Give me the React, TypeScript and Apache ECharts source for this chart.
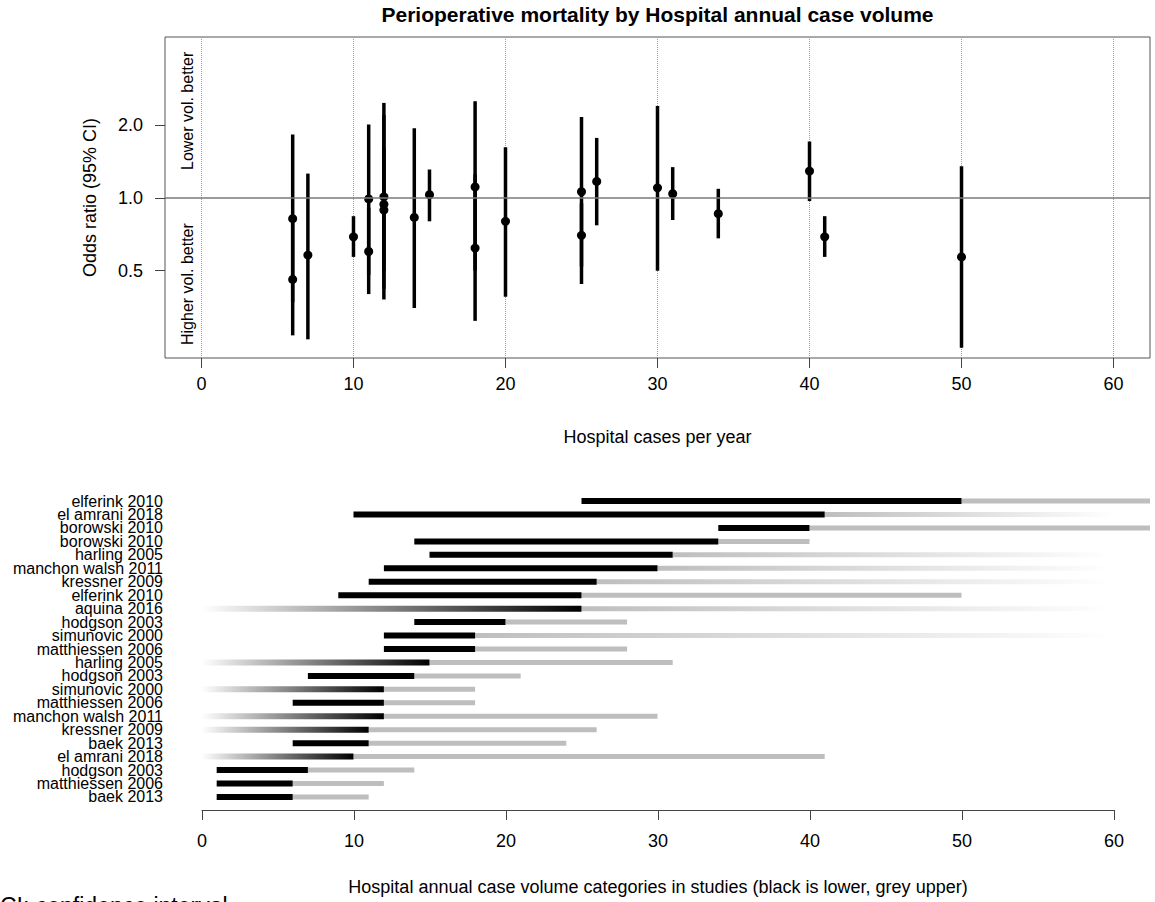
import React, { useEffect, useRef } from 'react';
import * as echarts from 'echarts';

const FONT = "'Liberation Sans', Arial, Helvetica, sans-serif";

// ---- Study rows (top to bottom in the lower panel) ----
const studies = [
  'elferink 2010', 'el amrani 2018', 'borowski 2010', 'borowski 2010', 'harling 2005',
  'manchon walsh 2011', 'kressner 2009', 'elferink 2010', 'aquina 2016', 'hodgson 2003',
  'simunovic 2000', 'matthiessen 2006', 'harling 2005', 'hodgson 2003', 'simunovic 2000',
  'matthiessen 2006', 'manchon walsh 2011', 'kressner 2009', 'baek 2013', 'el amrani 2018',
  'hodgson 2003', 'matthiessen 2006', 'baek 2013',
];
// lower category start (null = "or fewer", drawn fading in from 0)
const lowerFrom: (number | null)[] = [25, 10, 34, 14, 15, 12, 11, 9, null, 14, 12, 12, null, 7, null, 6, null, null, 6, null, 1, 1, 1];
// cut point between lower (black) and upper (grey) category
const cutPoint = [50, 41, 40, 34, 31, 30, 26, 25, 25, 20, 18, 18, 15, 14, 12, 12, 12, 11, 11, 10, 7, 6, 6];
// upper category end (null = "or more", drawn fading out)
const upperTo: (number | null)[] = [100, null, 100, 40, null, null, null, 50, null, 28, null, 28, 31, 21, 18, 18, 30, 26, 24, 41, 14, 12, 11];

// ---- Odds ratios (upper panel), same order ----
const orEst = [0.57, 0.69, 1.29, 0.86, 1.04, 1.10, 1.17, 1.06, 0.70, 0.80, 0.62, 1.11, 1.03, 0.83, 0.89, 0.94, 1.01, 0.60, 0.99, 0.69, 0.58, 0.46, 0.82];
const orLow = [0.24, 0.57, 0.97, 0.68, 0.81, 0.50, 0.77, 0.44, 0.52, 0.39, 0.50, 0.31, 0.80, 0.35, 0.50, 0.38, 0.42, 0.40, 0.48, 0.57, 0.26, 0.27, 0.37];
const orHigh = [1.35, 0.84, 1.71, 1.09, 1.34, 2.40, 1.77, 2.16, 0.95, 1.62, 1.25, 2.51, 1.31, 1.94, 1.60, 2.20, 2.47, 0.91, 2.01, 0.84, 1.26, 0.79, 1.83];

const xTicks = [0, 10, 20, 30, 40, 50, 60];
const orTicks = [0.5, 1, 2];
const FADE_END = 60;

export default function App() {
  const ref = useRef<HTMLDivElement>(null);
  useEffect(() => {
    document.body.style.margin = '0';
    const chart = echarts.init(ref.current!, null, { renderer: 'svg' });
    const log2 = (v: number) => Math.log2(v);
    const topCI = studies.map((_, i) => [cutPoint[i], log2(orLow[i]), log2(orHigh[i])]);
    const topPts = studies.map((_, i) => [cutPoint[i], log2(orEst[i])]);
    const rows = studies.map((_, i) => [cutPoint[i], i]);
    const tickLine = { color: '#444', width: 1 };

    const option: any = {
      animation: false,
      textStyle: { fontFamily: FONT, color: '#000' },
      grid: [
        { left: 165, top: 37, width: 985, height: 321, show: true, borderColor: '#555', borderWidth: 1, backgroundColor: 'transparent' },
        { left: 165, top: 494.3, width: 985, height: 309.4 },
        { left: 202, top: 809, width: 912, height: 1 },
      ],
      xAxis: [
        {
          gridIndex: 0, type: 'value', min: -2.4, max: 62.4, position: 'bottom',
          axisLine: { show: false, onZero: false },
          axisTick: { show: true, customValues: xTicks, length: 10, lineStyle: tickLine },
          axisLabel: { customValues: xTicks, fontSize: 18, color: '#000', fontFamily: FONT, margin: 17 },
          splitLine: { show: true, lineStyle: { type: 'dotted', color: '#9a9a9a', width: 1 } },
          name: 'Hospital cases per year', nameLocation: 'middle', nameGap: 70,
          nameTextStyle: { fontSize: 18, color: '#000', fontFamily: FONT },
        },
        { gridIndex: 1, type: 'value', min: -2.4, max: 62.4, show: false, axisLine: { onZero: false } },
        {
          gridIndex: 2, type: 'value', min: 0, max: 60, interval: 10,
          axisLine: { show: true, onZero: false, lineStyle: tickLine },
          axisTick: { show: true, length: 10, lineStyle: tickLine },
          axisLabel: { fontSize: 18, color: '#000', fontFamily: FONT, margin: 22 },
          splitLine: { show: false },
          name: 'Hospital annual case volume categories in studies (black is lower, grey upper)',
          nameLocation: 'middle', nameGap: 68,
          nameTextStyle: { fontSize: 18, color: '#000', fontFamily: FONT },
        },
      ],
      yAxis: [
        {
          gridIndex: 0, type: 'value', min: -2.2, max: 2.21, position: 'left',
          axisLine: { show: false, onZero: false },
          axisTick: { show: true, customValues: orTicks.map(log2), length: 10, lineStyle: tickLine },
          axisLabel: {
            customValues: orTicks.map(log2), fontSize: 18, color: '#000', fontFamily: FONT, margin: 22,
            formatter: (v: number) => Math.pow(2, v).toFixed(1),
          },
          splitLine: { show: false },
          name: 'Odds ratio (95% CI)', nameLocation: 'middle', nameGap: 66, nameRotate: 90,
          nameTextStyle: { fontSize: 18, color: '#000', fontFamily: FONT },
        },
        {
          gridIndex: 1, type: 'category', inverse: true, boundaryGap: true,
          data: studies.map((_, i) => String(i)),
          axisLine: { show: false, onZero: false }, axisTick: { show: false }, splitLine: { show: false },
          axisLabel: {
            interval: 0, fontSize: 16, lineHeight: 13, color: '#000', fontFamily: FONT, margin: 2,
            formatter: (v: string) => studies[+v],
          },
        },
        { gridIndex: 2, type: 'value', min: 0, max: 1, show: false, axisLine: { onZero: false } },
      ],
      series: [
        {
          type: 'custom', name: 'CI', xAxisIndex: 0, yAxisIndex: 0, z: 2,
          data: topCI, encode: { x: 0, y: [1, 2] },
          renderItem: (params: any, api: any) => {
            const p1 = api.coord([api.value(0), api.value(1)]);
            const p2 = api.coord([api.value(0), api.value(2)]);
            return { type: 'line', shape: { x1: p1[0], y1: p1[1], x2: p2[0], y2: p2[1] }, style: { stroke: '#000', lineWidth: 3.5 } };
          },
        },
        {
          type: 'scatter', name: 'OR', xAxisIndex: 0, yAxisIndex: 0, z: 3,
          data: topPts, symbol: 'circle', symbolSize: 9, itemStyle: { color: '#000', opacity: 1 },
          markLine: {
            silent: true, symbol: 'none', label: { show: false },
            lineStyle: { color: '#7a7a7a', width: 1.5, type: 'solid' },
            data: [{ yAxis: 0 }],
          },
        },
        {
          type: 'custom', name: 'categories', xAxisIndex: 1, yAxisIndex: 1,
          data: rows,
          renderItem: (params: any, api: any) => {
            const i = params.dataIndex;
            const cs = params.coordSys;
            const box = { x: cs.x, y: cs.y, width: cs.width, height: cs.height };
            const yc = api.coord([0, i])[1];
            const xc = (v: number) => api.coord([v, i])[0];
            const rect = (x0: number, x1: number, h: number) =>
              echarts.graphic.clipRectByRect({ x: x0, y: yc - h / 2, width: x1 - x0, height: h }, box);
            const xCut = xc(cutPoint[i]);
            const children: any[] = [];
            const up = upperTo[i];
            if (up == null) {
              children.push({
                type: 'rect', shape: rect(xCut, xc(FADE_END), 5),
                style: { fill: new echarts.graphic.LinearGradient(0, 0, 1, 0, [{ offset: 0, color: '#bebebe' }, { offset: 1, color: '#ffffff' }]) },
              });
            } else {
              children.push({ type: 'rect', shape: rect(xCut, xc(up), 5), style: { fill: '#bebebe' } });
            }
            const lo = lowerFrom[i];
            if (lo == null) {
              children.push({
                type: 'rect', shape: rect(xc(0), xCut, 6),
                style: { fill: new echarts.graphic.LinearGradient(0, 0, 1, 0, [{ offset: 0, color: '#ffffff' }, { offset: 1, color: '#000000' }]) },
              });
            } else {
              children.push({ type: 'rect', shape: rect(xc(lo), xCut, 6), style: { fill: '#000' } });
            }
            return { type: 'group', children };
          },
        },
      ],
      graphic: [
        {
          type: 'text', x: 657.5, y: 14,
          style: { text: 'Perioperative mortality by Hospital annual case volume', font: `bold 21px ${FONT}`, fill: '#000', align: 'center', verticalAlign: 'middle' },
        },
        {
          type: 'text', x: 187, y: 170, rotation: Math.PI / 2,
          style: { text: 'Lower vol. better', font: `16px ${FONT}`, fill: '#000', align: 'left', verticalAlign: 'middle' },
        },
        {
          type: 'text', x: 187, y: 345, rotation: Math.PI / 2,
          style: { text: 'Higher vol. better', font: `16px ${FONT}`, fill: '#000', align: 'left', verticalAlign: 'middle' },
        },
        {
          type: 'text', x: 0, y: 894,
          style: { text: 'CI: confidence interval', font: `23px ${FONT}`, fill: '#000', align: 'left', verticalAlign: 'top' },
        },
      ],
    };
    chart.setOption(option);
    return () => chart.dispose();
  }, []);
  return <div ref={ref} style={{ position: 'absolute', left: 0, top: 0, width: 1155, height: 902 }} />;
}
